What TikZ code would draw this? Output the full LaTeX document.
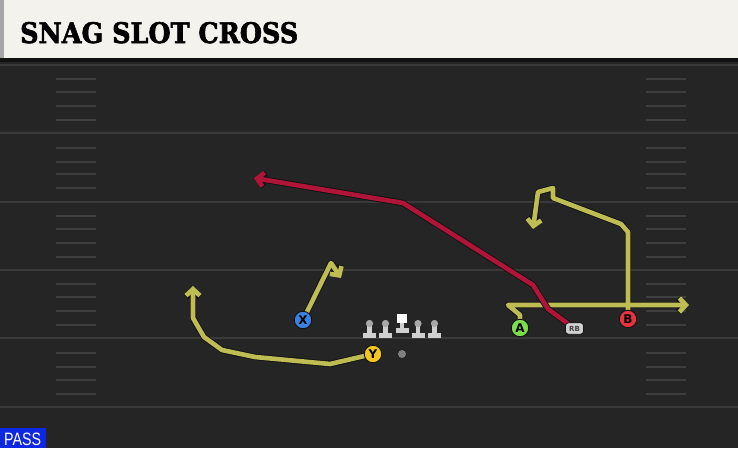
\documentclass[tikz,border=0pt]{standalone}
\usepackage{fontspec}
\setmainfont{DejaVu Sans}
\newfontfamily\titlefont[BoldFeatures={FakeBold=2.2}]{DejaVu Serif}
\newfontfamily\passfont{Liberation Sans}
\usetikzlibrary{arrows.meta}
\definecolor{field}{RGB}{37,37,37}
\definecolor{cream}{RGB}{244,242,236}
\definecolor{yardc}{RGB}{58,58,58}
\definecolor{hashc}{RGB}{62,62,62}
\definecolor{routeY}{RGB}{190,189,84}
\definecolor{routeR}{RGB}{176,20,56}
\definecolor{outl}{RGB}{18,18,18}
\definecolor{xblue}{RGB}{62,128,224}
\definecolor{ayel}{RGB}{244,198,30}
\definecolor{agreen}{RGB}{124,222,74}
\definecolor{bred}{RGB}{230,50,62}
\definecolor{passblue}{RGB}{14,40,226}
\definecolor{olhead}{RGB}{168,168,168}
\definecolor{olbody}{RGB}{208,208,208}
\pgfdeclarelayer{base}
\pgfdeclarelayer{routes}
\pgfsetlayers{base,routes,main}
\tikzset{
  yard/.style={draw=yardc, line width=2},
  hashmark/.style={draw=hashc, line width=1.8},
  rout/.style={line width=6.4, draw=outl, line join=round, line cap=round},
  routy/.style={line width=4.6, draw=routeY, line join=round, line cap=round},
  routr/.style={line width=4.6, draw=routeR, line join=round, line cap=round},
  tipy/.style={-{Straight Barb[length=6.5pt,width=14pt]}},
  player/.style={circle, minimum size=17.5pt, inner sep=0pt, draw=outl, line width=0.9pt,
    font=\bfseries\fontsize{12}{12}\selectfont, text=black},
  rbbox/.style={rounded corners=3pt, fill=olbody, draw=outl, line width=0.8pt, minimum width=18pt,
    minimum height=11.5pt, inner sep=0pt, font=\bfseries\fontsize{7}{7}\selectfont, text=black!75},
}
\begin{document}
\begin{tikzpicture}[x=1pt,y=-1pt]
\useasboundingbox (0,0) rectangle (738,448);
\begin{pgfonlayer}{base}
\fill[field] (0,0) rectangle (738,448);
\foreach \y in {65,133,202,270,338,407} \draw[yard] (0,\y) -- (738,\y);
\foreach \y in {79,92,106,120,148,162,174,188,216,229,243,257,284,297,311,325,353,367,380,394} {
  \draw[hashmark] (56,\y) -- (96,\y);
  \draw[hashmark] (646,\y) -- (686,\y);
}
\fill[cream] (0,0) rectangle (738,58);
\fill[black!35] (0,0) rectangle (4,58);
\fill[outl] (0,58) rectangle (738,62);
\end{pgfonlayer}
\node[anchor=base west, inner sep=0pt] (title) at (20,43) {\resizebox{278pt}{21pt}{\titlefont\bfseries SNAG SLOT CROSS}};
\fill[passblue] (0,428) rectangle (46,448);
\node[anchor=base west, inner sep=0pt, text=white] (pass) at (4,445) {\resizebox{37pt}{12.5pt}{\passfont PASS}};
% players
\node[player, fill=xblue] (X) at (303,320) {X};
\node[player, fill=ayel] (Y) at (373,354) {Y};
\node[player, fill=agreen] (A) at (520,328) {A};
\node[player, fill=bred] (B) at (628,319) {B};
\node[rbbox] (RB) at (574.5,328.5) {RB};
\fill[gray] (402,354) circle (4) coordinate (ball);
% linemen
\foreach \x/\n in {369.5/L1,385.5/L2,418/L4,434.5/L5} {
  \fill[olbody] (\x-6.5,333) rectangle (\x+6.5,338);
  \fill[olbody] (\x-2.2,326) rectangle (\x+2.2,333);
  \fill[olhead] (\x,323.5) circle (3.6);
  \coordinate (\n) at (\x,330);
}
\fill[olbody] (395.5,328) rectangle (408.5,333);
\fill[olbody] (399.8,323) rectangle (404.2,328);
\fill[white] (397,314) rectangle (407,323);
\coordinate (C) at (402,325);
% route end coordinates
\coordinate (xe) at (341,278);
\coordinate (ye) at (193,286);
\coordinate (ae) at (689,305);
\coordinate (be) at (533,229);
\coordinate (re) at (254,178);
\begin{pgfonlayer}{routes}
\foreach \s in {rout,routy} {
  \draw[\s, tipy] (X.center) -- (331,263) -- (xe);
  \draw[\s, tipy] (Y.center) -- (330,364) -- (255,357) -- (222,350) -- (204,337) -- (193,318) -- (ye);
  \draw[\s, tipy] (A.center) -- (520,315) -- (508,305) -- (ae);
  \draw[\s, tipy] (B.center) -- (628,232) -- (621,224) -- (553,198) -- (553,188) -- (538,192) -- (be);
}
\draw[rout, tipy] (RB.center) -- (548,309) -- (533,285) -- (403,203) -- (re);
\draw[routr, tipy] (RB.center) -- (548,309) -- (533,285) -- (403,203) -- (re);
\end{pgfonlayer}
\end{tikzpicture}
\end{document}
